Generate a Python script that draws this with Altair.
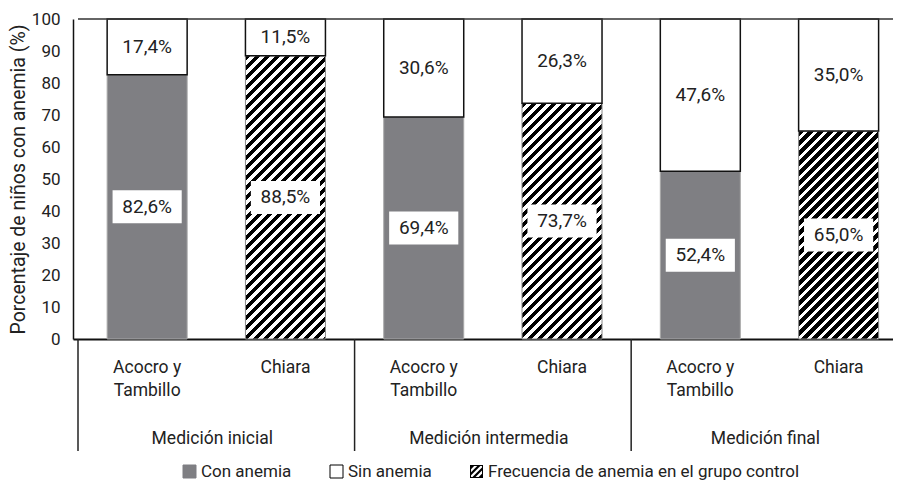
import altair as alt
import pandas as pd

# ---------------- data ----------------
groups = ["Medición inicial", "Medición intermedia", "Medición final"]
sites = ["Acocro y Tambillo", "Chiara"]
site_labels = ["Acocro y\nTambillo", "Chiara"]
con_anemia = [82.6, 88.5, 69.4, 73.7, 52.4, 65.0]
sin_anemia = [17.4, 11.5, 30.6, 26.3, 47.6, 35.0]
y_ticks = [0, 10, 20, 30, 40, 50, 60, 70, 80, 90, 100]
legend_labels = ["Con anemia", "Sin anemia", "Frecuencia de anemia en el grupo control"]
y_title = "Porcentaje de niños con anemia (%)"

# ---------------- layout constants ----------------
SLOT_PX = 140
PLOT_W = 820
PLOT_H = 320
PX_PER_UNIT = PLOT_H / 100.0
BAR_W = 80
FONT = "Roboto"
GRAY = "#7f7f83"
TXT = "#222222"

rows = []
for gi, g in enumerate(groups):
    for si, s in enumerate(sites):
        i = gi * 2 + si
        rows.append(dict(slot=i, group=g, site=s, site_lbl=site_labels[si], site_i=si,
                         con=con_anemia[i], sin=sin_anemia[i]))
df = pd.DataFrame(rows)
gdf = pd.DataFrame({"group": groups, "gi": range(len(groups))})
sdf = pd.DataFrame({"gi": range(len(groups) + 1)})
ldf = pd.DataFrame({"leg": legend_labels})
tdf = pd.DataFrame({"top": [100], "x0": [0], "x1": [len(rows)]})

xscale = alt.Scale(domain=[0, PLOT_W / SLOT_PX], nice=False, zero=False)
yscale = alt.Scale(domain=[0, 100], nice=False)


def X(f):
    return alt.X(f, type="quantitative", scale=xscale, title=None)


def Y(f):
    return alt.Y(f, type="quantitative", scale=yscale, title=y_title)


base = alt.Chart(df).transform_calculate(
    xc="datum.slot + 0.5",
    zero="0",
    total="datum.con + datum.sin",
    mid="datum.con / 2",
    upmid="datum.con + datum.sin / 2",
    b0="datum.con / 2 - 5.15",
    b1="datum.con / 2 + 5.15",
    xl="datum.slot + 0.5 - 0.25",
    xr="datum.slot + 0.5 + 0.25",
    lbl="replace(format(datum.con, '.1f'), '.', ',') + '%'",
    ulbl="replace(format(datum.sin, '.1f'), '.', ',') + '%'",
)

layers = []

# gray bars (Con anemia)
layers.append(
    base.transform_filter("datum.site_i == 0")
    .mark_bar(size=BAR_W, color=GRAY, stroke="#a8a8a8", strokeWidth=1)
    .encode(x=X("xc:Q"), y=Y("zero:Q"), y2="con:Q")
)


# hatched bars (control group) -- diagonal stripes via a hard-stop gradient
def hatch_gradient(h_px, w_px=BAR_W, period=10.0, black=0.54):
    k = (w_px + h_px) / (w_px ** 2 + h_px ** 2)
    q = period / (w_px + h_px)
    stops = []
    o = 0.0
    while o < 1.0:
        e1 = min(o + q * black, 1.0)
        e2 = min(o + q, 1.0)
        stops += [
            {"offset": round(o, 5), "color": "black"},
            {"offset": round(e1, 5), "color": "black"},
            {"offset": round(e1, 5), "color": "white"},
            {"offset": round(e2, 5), "color": "white"},
        ]
        o = e2
    return {"gradient": "linear", "x1": 0, "y1": 0, "x2": k * w_px, "y2": k * h_px, "stops": stops}


for r in rows:
    if r["site_i"] == 1:
        layers.append(
            base.transform_filter(f"datum.slot == {r['slot']}")
            .mark_bar(size=BAR_W, color=hatch_gradient(r["con"] * PX_PER_UNIT),
                      stroke="#8a8a8a", strokeWidth=1)
            .encode(x=X("xc:Q"), y=Y("zero:Q"), y2="con:Q")
        )

# white bars (Sin anemia)
layers.append(
    base.mark_bar(size=BAR_W, fill="white", stroke="#111111", strokeWidth=1.5)
    .encode(x=X("xc:Q"), y=Y("con:Q"), y2="total:Q")
)

# white label boxes
layers.append(
    base.mark_rect(fill="white")
    .encode(x=X("xl:Q"), x2="xr:Q", y=Y("b0:Q"), y2="b1:Q")
)

# value labels
layers.append(
    base.mark_text(fontSize=19, font=FONT, color=TXT, baseline="middle")
    .encode(x=X("xc:Q"), y=Y("mid:Q"), text="lbl:N")
)
layers.append(
    base.mark_text(fontSize=19, font=FONT, color=TXT, baseline="middle")
    .encode(x=X("xc:Q"), y=Y("upmid:Q"), text="ulbl:N")
)

# top frame line
layers.append(
    alt.Chart(tdf).mark_rule(color="#333333", strokeWidth=1.5)
    .encode(y=Y("top:Q"), x=X("x0:Q"), x2="x1:Q")
)

# category labels
layers.append(
    base.mark_text(fontSize=17.5, font=FONT, color=TXT, lineBreak="\n", lineHeight=23,
                   baseline="alphabetic")
    .encode(x=X("xc:Q"), y=alt.value(354), text="site_lbl:N")
)

# group labels
layers.append(
    alt.Chart(gdf).transform_calculate(gc="datum.gi * 2 + 1")
    .mark_text(fontSize=17.5, font=FONT, color=TXT, baseline="alphabetic", dx=-4)
    .encode(x=X("gc:Q"), y=alt.value(425), text="group:N")
)

# group separators
layers.append(
    alt.Chart(sdf).transform_calculate(sx="datum.gi * 2")
    .mark_rule(color="#222222", strokeWidth=1.5)
    .encode(x=X("sx:Q"), y=alt.value(PLOT_H), y2=alt.value(PLOT_H + 112))
)


# legend (carried by invisible points)
def clip(poly, a, b, c):
    out = []
    n = len(poly)
    for j in range(n):
        p, q2 = poly[j], poly[(j + 1) % n]
        fp = a * p[0] + b * p[1] - c
        fq = a * q2[0] + b * q2[1] - c
        if fp <= 0:
            out.append(p)
        if (fp < 0 < fq) or (fq < 0 < fp):
            t = fp / (fp - fq)
            out.append((p[0] + t * (q2[0] - p[0]), p[1] + t * (q2[1] - p[1])))
    return out


def poly_path(poly):
    return "M" + "L".join(f"{x:.3f},{y:.3f}" for x, y in poly) + "Z"


def hatch_symbol(t=0.84, period=0.95, black=0.5):
    path = poly_path([(-1, -1), (1, -1), (1, 1), (-1, 1)])
    path += poly_path([(-t, -t), (-t, t), (t, t), (t, -t)])
    inner = [(-t, -t), (t, -t), (t, t), (-t, t)]
    c = -2 * t
    while c < 2 * t:
        p = clip(inner, -1, -1, -c)
        p = clip(p, 1, 1, c + period * black)
        if len(p) >= 3:
            path += poly_path(p)
        c += period
    return path


LEG = alt.Legend(title=None, orient="none", direction="horizontal", legendX=108, legendY=444,
                 symbolOpacity=1, symbolSize=169, symbolStrokeWidth=1, labelFontSize=17,
                 labelFont=FONT, labelColor=TXT, columnPadding=36, labelOffset=3, padding=0,
                 labelLimit=500)
leg_scale_dom = legend_labels
layers.append(
    alt.Chart(ldf).mark_point(filled=True, opacity=0)
    .encode(
        x=alt.value(0), y=alt.value(0),
        color=alt.Color("leg:N", scale=alt.Scale(domain=leg_scale_dom, range=[GRAY, "white", "black"]),
                        legend=LEG, sort=leg_scale_dom),
        stroke=alt.Stroke("leg:N", scale=alt.Scale(domain=leg_scale_dom, range=[GRAY, "black", "transparent"]),
                          legend=LEG, sort=leg_scale_dom),
        shape=alt.Shape("leg:N", scale=alt.Scale(domain=leg_scale_dom,
                                                  range=["square", "square", hatch_symbol()]),
                        legend=LEG, sort=leg_scale_dom),
    )
)

chart = alt.layer(*layers).properties(
    width=PLOT_W, height=PLOT_H,
    autosize=alt.AutoSizeParams(type="none"),
    padding={"left": 65, "top": 11, "right": 0, "bottom": 143},
).configure(font=FONT).configure_view(stroke=None).configure_axisX(
    labels=False, ticks=False, grid=False, domain=True, domainColor="#111111", domainWidth=2, title=None
).configure_axisY(
    values=y_ticks, ticks=False, grid=False, domain=True, domainColor="#111111", domainWidth=1.5,
    labelFontSize=17, labelFont=FONT, labelColor=TXT, labelPadding=13,
    titleFontSize=19.5, titleFont=FONT, titleFontWeight="normal", titleColor=TXT, titlePadding=3
)

chart.save("out.html", embed_options={"renderer": "svg", "actions": False})
